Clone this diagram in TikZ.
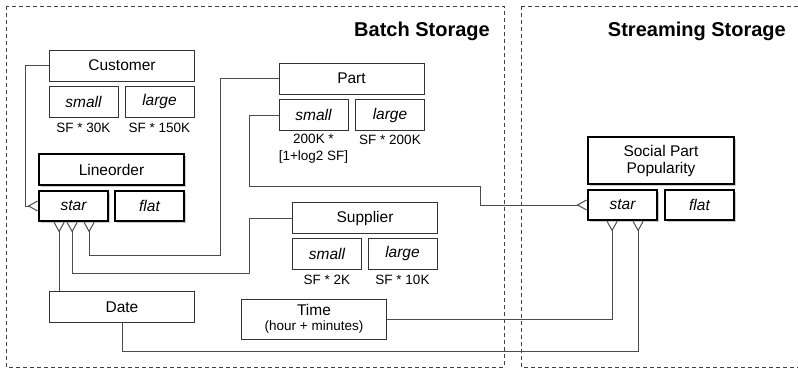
\documentclass[tikz,border=0pt]{standalone}
\usepackage{fontspec}
\setmainfont{Liberation Sans}
\usetikzlibrary{arrows.meta}
\usetikzlibrary{shadows}
\usepackage{color}

\begin{document}
\begin{tikzpicture}[
		x=1pt, y=-1pt,
		tbl/.style={draw=black!80,line width=0.8pt,minimum width=145pt,minimum height=31pt,inner sep=0pt,font=\fontsize{15.5}{17}\selectfont},
		sub/.style={draw=black!80,line width=0.8pt,minimum width=69pt,minimum height=31pt,inner sep=0pt,font=\fontsize{15.5}{17}\selectfont\itshape},
		ent/.style={draw=black,line width=1.8pt,fill=white,inner sep=0pt,font=\fontsize{15.5}{17}\selectfont,
			drop shadow={shadow xshift=1.5pt,shadow yshift=-1.5pt,fill=black!35,opacity=0.6}},
		note/.style={inner sep=0pt,align=center,font=\fontsize{13.5}{17}\selectfont},
		region/.style={draw=black!75,line width=0.8pt,dash pattern=on 4pt off 3pt},
		title/.style={anchor=east,inner sep=0pt,font=\fontsize{20}{22}\selectfont\bfseries},
		link/.style={draw=black!70,line width=0.9pt},
		crow/.style={-{Straight Barb[reversed,length=9pt,width=10pt,line width=1pt]}}]
	\useasboundingbox (0,0) rectangle (798,369);
	%% storage regions
	\draw[region] (6,6) rectangle (504,367);
	\draw[region] (521,6) -- (805,6) (521,6) -- (521,367) -- (805,367);
	\node[title] (batch) at (490,31) {Batch Storage};
	\node[title] (stream) at (786,31) {Streaming Storage};
	%% dimension tables
	\node[tbl] (cust) at (122,65.5) {Customer};
	\node[sub] (custs) at (83.5,101.5) {small};
	\node[sub] (custl) at (159.5,101.5) {large};
	\node[note] (custsn) at (83.5,128) {SF * 30K};
	\node[note] (custln) at (159.5,128) {SF * 150K};
	\node[tbl] (part) at (351.5,78.5) {Part};
	\node[sub] (parts) at (313.5,115) {small};
	\node[sub] (partl) at (390,115) {large};
	\node[note] (partsn) at (313.5,148.5) {200K *\\{}[1+log2 SF]};
	\node[note] (partln) at (390,140) {SF * 200K};
	\node[tbl] (supp) at (365,218) {Supplier};
	\node[sub] (supps) at (327,253.5) {small};
	\node[sub] (suppl) at (402.5,253.5) {large};
	\node[note] (suppsn) at (327,280) {SF * 2K};
	\node[note] (suppln) at (402.5,280) {SF * 10K};
	\node[tbl,minimum height=40pt,align=center] (time) at (314,319) {Time\\[-2pt]{\fontsize{13.5}{15}\selectfont(hour + minutes)}};
	\node[tbl] (date) at (122,307) {Date};
	%% fact tables
	\node[ent,minimum width=145pt,minimum height=31pt] (lo) at (111.5,169.5) {Lineorder};
	\node[ent,minimum width=69pt,minimum height=30pt,font=\fontsize{15.5}{17}\selectfont\itshape] (lostar) at (73.5,206) {star};
	\node[ent,minimum width=69pt,minimum height=30pt,font=\fontsize{15.5}{17}\selectfont\itshape] (loflat) at (149.5,206) {flat};
	\node[ent,minimum width=146pt,minimum height=47pt,align=center] (spp) at (661,160.5) {Social Part\\Popularity};
	\node[ent,minimum width=69pt,minimum height=30pt,font=\fontsize{15.5}{17}\selectfont\itshape] (sppstar) at (622.5,205) {star};
	\node[ent,minimum width=69pt,minimum height=30pt,font=\fontsize{15.5}{17}\selectfont\itshape] (sppflat) at (699.5,205) {flat};
	%% foot points
	\coordinate (f1) at ([xshift=21pt]lostar.south west);
	\coordinate (f2) at ([xshift=34pt]lostar.south west);
	\coordinate (f3) at ([xshift=51pt]lostar.south west);
	\coordinate (s1) at ([xshift=25pt]sppstar.south west);
	\coordinate (s2) at ([xshift=51pt]sppstar.south west);
	%% links
	\draw[link,crow] (cust.west) -- ++(-24,0) |- (lostar.west);
	\draw[link,crow] (part.west) -- ++(-58,0) -- ++(0,177) -| (f3);
	\draw[link,crow] (supp.west) -- ++(-43,0) -- ++(0,55) -| (f2);
	\draw[link,crow] (f1 |- date.north) -- (f1);
	\draw[link,crow] (parts.west) -- ++(-29,0) |- (480,186) |- (sppstar.west);
	\draw[link,crow] (time.east) -| (s1);
	\draw[link,crow] (date.south) |- (122,351) -| (s2);
\end{tikzpicture}
\end{document}
